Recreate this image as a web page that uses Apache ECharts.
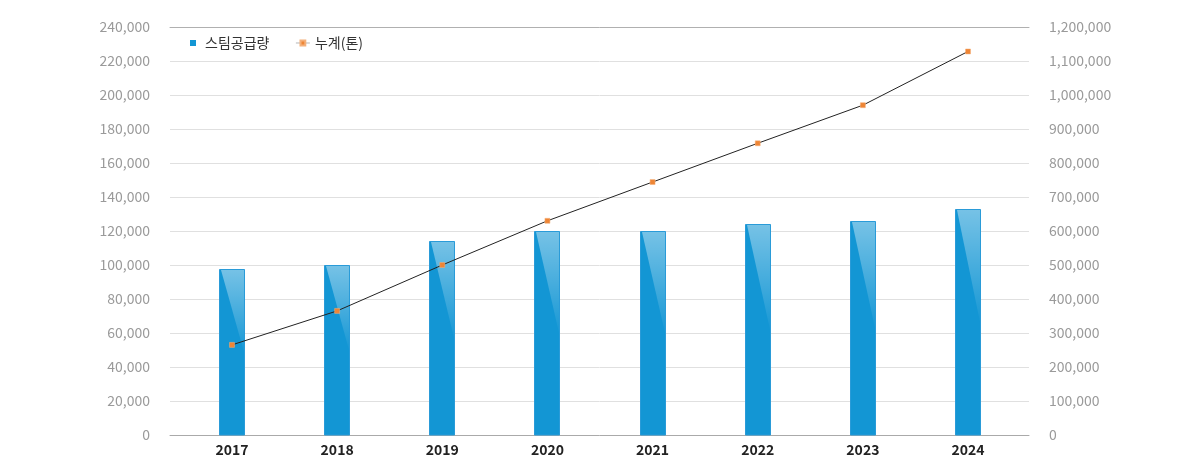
<!DOCTYPE html>
<html><head><meta charset="utf-8">
<script src="https://cdn.jsdelivr.net/npm/echarts@6/dist/echarts.min.js"></script>
<style>html,body{margin:0;padding:0;background:#fff}#c{width:1200px;height:460px}</style>
</head><body><div id="c"></div>
<script>
const years = ['2017','2018','2019','2020','2021','2022','2023','2024'];
const steamSupply = [97600, 100000, 114000, 120000, 120000, 124000, 126000, 133000];
const cumulative = [265000, 365000, 500000, 630000, 744000, 858000, 970000, 1128000];
const leftMax = 240000, leftStep = 20000;
const rightMax = 1200000, rightStep = 100000;

const FONT = '"Noto Sans CJK KR", "Noto Sans", sans-serif';
const fmt = v => Number(v).toLocaleString('en-US');
const chart = echarts.init(document.getElementById('c'), null, {renderer:'canvas'});

chart.setOption({
  animation:false,
  textStyle:{fontFamily:FONT},
  legend:{
    left:190, top:36, padding:0, itemWidth:14, itemHeight:6, itemGap:26,
    textStyle:{fontSize:14, color:'#333', fontFamily:FONT},
    data:[
      {name:'스팀공급량', icon:'path://M0,0H1V1H0Z'},
      {name:'누계(톤)', lineStyle:{color:'#b5b5b5', width:1}}
    ]
  },
  grid:[
    {left:170, right:171, top:27, bottom:25},
    {left:179.4, right:179.4, top:27, bottom:25}
  ],
  xAxis:[
    {gridIndex:0, type:'value', min:0, max:1, position:'bottom', axisLine:{show:true, onZero:false, lineStyle:{color:'#aaa'}}, axisTick:{show:false}, axisLabel:{show:false}, splitLine:{show:false}},
    {gridIndex:0, type:'value', min:0, max:1, position:'top', axisLine:{show:true, onZero:false, lineStyle:{color:'#b0b0b0'}}, axisTick:{show:false}, axisLabel:{show:false}, splitLine:{show:false}},
    {gridIndex:1, type:'category', data:years, boundaryGap:true, axisLine:{show:false}, axisTick:{show:false},
     axisLabel:{color:'#222', fontSize:14, fontWeight:'bold', margin:8, fontFamily:FONT}}
  ],
  yAxis:[
    {gridIndex:0, type:'value', min:0, max:leftMax, interval:leftStep, position:'left',
     axisLine:{show:false}, axisTick:{show:false},
     axisLabel:{color:'#9a9a9a', fontSize:14, margin:20, formatter:fmt, fontFamily:FONT},
     splitLine:{show:true, lineStyle:{color:'#e0e0e0'}}},
    {gridIndex:0, type:'value', min:0, max:rightMax, interval:rightStep, position:'right',
     axisLine:{show:false}, axisTick:{show:false},
     axisLabel:{color:'#9a9a9a', fontSize:14, margin:20, formatter:fmt, fontFamily:FONT},
     splitLine:{show:false}},
    {gridIndex:1, type:'value', min:0, max:leftMax, show:false},
    {gridIndex:1, type:'value', min:0, max:rightMax, show:false}
  ],
  series:[
    {
      name:'스팀공급량', type:'custom', xAxisIndex:2, yAxisIndex:2,
      itemStyle:{color:'#1396d4'},
      data: years.map((y,i)=>[i, steamSupply[i]]),
      encode:{x:0, y:1},
      renderItem:function(params, api){
        const topPt = api.coord([api.value(0), api.value(1)]);
        const basePt = api.coord([api.value(0), 0]);
        const w = 26;
        const left = Math.round(topPt[0] - w/2);
        const top = Math.round(topPt[1]);
        const bottom = Math.round(basePt[1]);
        const h = bottom - top;
        return {type:'group', children:[
          {type:'rect', shape:{x:left+0.5, y:top+0.5, width:w-1, height:h-0.5},
           style:{fill:'#1396d4', stroke:'#2a9bd8', lineWidth:1}},
          {type:'polygon', shape:{points:[[left+2, top+1],[left+w-1, top+1],[left+w-1, top+0.5*h]]},
           style:{fill:new echarts.graphic.LinearGradient(0,0,0,1,[
             {offset:0, color:'rgba(255,255,255,0.42)'},
             {offset:0.6, color:'rgba(255,255,255,0.18)'},
             {offset:1, color:'rgba(255,255,255,0.02)'}])}}
        ]};
      },
      z:2
    },
    {
      name:'누계(톤)', type:'line', xAxisIndex:2, yAxisIndex:3,
      data:cumulative,
      symbol:'rect', symbolSize:5,
      lineStyle:{color:'#222', width:1},
      itemStyle:{color:'#ee8535', borderColor:'#f4b07a', borderWidth:0.5},
      z:3
    }
  ]
});
</script></body></html>
